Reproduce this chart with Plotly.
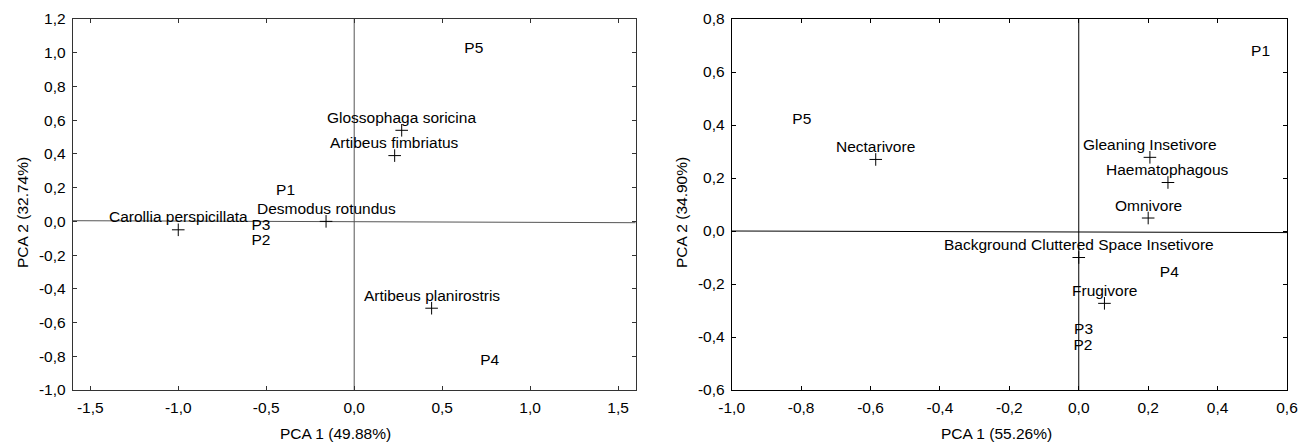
import plotly.graph_objects as go

# ---------- Data: left panel (species) ----------
species_left = ["Carollia perspicillata", "Desmodus rotundus", "Glossophaga soricina",
                "Artibeus fimbriatus", "Artibeus planirostris"]
species_left_x = [-1.00, -0.16, 0.27, 0.23, 0.44]
species_left_y = [-0.05, 0.00, 0.54, 0.39, -0.515]

sites_left = ["P1", "P2", "P3", "P4", "P5"]
sites_left_x = [-0.39, -0.53, -0.53, 0.77, 0.68]
sites_left_y = [0.18, -0.12, -0.03, -0.83, 1.02]

# ---------- Data: right panel (guilds) ----------
guilds_right = ["Nectarivore", "Gleaning Insetivore", "Haematophagous", "Omnivore",
                "Background Cluttered Space Insetivore", "Frugivore"]
guilds_right_x = [-0.585, 0.205, 0.257, 0.20, 0.0, 0.074]
guilds_right_y = [0.27, 0.278, 0.183, 0.049, -0.10, -0.273]

sites_right = ["P1", "P2", "P3", "P4", "P5"]
sites_right_x = [0.524, 0.012, 0.014, 0.261, -0.798]
sites_right_y = [0.675, -0.433, -0.373, -0.159, 0.417]

# ---------- Reference (origin) lines ----------
left_hline_x = [-1.6, 1.6]
left_hline_y = [0.004, -0.008]
left_vline_x = [0.0, 0.0]
left_vline_y = [-1.0, 1.2]
right_hline_x = [-1.0, 0.6]
right_hline_y = [0.0, -0.006]
right_vline_x = [0.0, 0.0]
right_vline_y = [-0.6, 0.8]

# ---------- Ticks ----------
left_xticks = [-1.5, -1.0, -0.5, 0.0, 0.5, 1.0, 1.5]
left_xlabels = ["-1,5", "-1,0", "-0,5", "0,0", "0,5", "1,0", "1,5"]
left_yticks = [-1.0, -0.8, -0.6, -0.4, -0.2, 0.0, 0.2, 0.4, 0.6, 0.8, 1.0, 1.2]
left_ylabels = ["-1,0", "-0,8", "-0,6", "-0,4", "-0,2", "0,0", "0,2", "0,4", "0,6", "0,8", "1,0", "1,2"]
right_xticks = [-1.0, -0.8, -0.6, -0.4, -0.2, 0.0, 0.2, 0.4, 0.6]
right_xlabels = ["-1,0", "-0,8", "-0,6", "-0,4", "-0,2", "0,0", "0,2", "0,4", "0,6"]
right_yticks = [-0.6, -0.4, -0.2, 0.0, 0.2, 0.4, 0.6, 0.8]
right_ylabels = ["-0,6", "-0,4", "-0,2", "0,0", "0,2", "0,4", "0,6", "0,8"]

FONT = "Liberation Sans, Arial, sans-serif"
FS = 15.5
W, H = 1299, 442


def px(xp):
    return xp / W


def py(yp):
    return 1 - yp / H


fig = go.Figure()
marker_style = dict(symbol="cross-thin", size=9, line=dict(color="black", width=1))
text_style = dict(family=FONT, size=FS, color="black")

# Left panel
fig.add_trace(go.Scatter(x=left_hline_x, y=left_hline_y, mode="lines",
                         line=dict(color="#555555", width=1), xaxis="x", yaxis="y", hoverinfo="skip"))
fig.add_trace(go.Scatter(x=left_vline_x, y=left_vline_y, mode="lines",
                         line=dict(color="#555555", width=1), xaxis="x", yaxis="y", hoverinfo="skip"))
fig.add_trace(go.Scatter(x=species_left_x, y=species_left_y, mode="markers",
                         marker=marker_style, xaxis="x", yaxis="y"))
fig.add_trace(go.Scatter(x=sites_left_x, y=sites_left_y, text=sites_left,
                         mode="text", textposition="middle center", textfont=text_style,
                         xaxis="x", yaxis="y"))

# Right panel
fig.add_trace(go.Scatter(x=right_hline_x, y=right_hline_y, mode="lines",
                         line=dict(color="black", width=1), xaxis="x2", yaxis="y2", hoverinfo="skip"))
fig.add_trace(go.Scatter(x=right_vline_x, y=right_vline_y, mode="lines",
                         line=dict(color="black", width=1), xaxis="x2", yaxis="y2", hoverinfo="skip"))
fig.add_trace(go.Scatter(x=guilds_right_x, y=guilds_right_y, mode="markers",
                         marker=marker_style, xaxis="x2", yaxis="y2"))
fig.add_trace(go.Scatter(x=sites_right_x, y=sites_right_y, text=sites_right,
                         mode="text", textposition="middle center", textfont=text_style,
                         xaxis="x2", yaxis="y2"))

ydom = [py(390), py(19)]
axis_common = dict(showline=True, mirror="ticks", ticks="inside", ticklen=4, tickwidth=1,
                   showgrid=False, zeroline=False, fixedrange=True, automargin=False,
                   ticklabeloverflow="allow",
                   tickfont=dict(family=FONT, size=FS, color="black"))

fig.update_layout(
    template="none",
    width=W, height=H, autosize=False,
    margin=dict(l=0, r=0, t=0, b=0, pad=0),
    paper_bgcolor="white", plot_bgcolor="white",
    showlegend=False,
    xaxis=dict(domain=[px(72.7), px(635.7)], range=[-1.6, 1.6], anchor="y",
               tickvals=left_xticks, ticktext=left_xlabels, linecolor="#333333",
               tickcolor="#333333", ticklabelstandoff=3, **axis_common),
    yaxis=dict(domain=ydom, range=[-1.0, 1.2], anchor="x",
               tickvals=left_yticks, ticktext=left_ylabels, linecolor="#333333",
               tickcolor="#333333", ticklabelstandoff=3, **axis_common),
    xaxis2=dict(domain=[px(731.7), px(1287)], range=[-1.0, 0.6], anchor="y2",
                tickvals=right_xticks, ticktext=right_xlabels, linecolor="black",
                tickcolor="black", ticklabelstandoff=3, **axis_common),
    yaxis2=dict(domain=ydom, range=[-0.6, 0.8], anchor="x2",
                tickvals=right_yticks, ticktext=right_ylabels, linecolor="black",
                tickcolor="black", ticklabelstandoff=3, **axis_common),
)

annots = []
# point labels placed just above their markers
for names, xs, ys, xr, yr in [(species_left, species_left_x, species_left_y, "x", "y"),
                              (guilds_right, guilds_right_x, guilds_right_y, "x2", "y2")]:
    for n, xv, yv in zip(names, xs, ys):
        annots.append(dict(text=n, x=xv, y=yv, xref=xr, yref=yr, showarrow=False,
                           font=text_style, xanchor="center", yanchor="middle", yshift=13))

annots += [
    dict(text="PCA 1 (49.88%)", x=px(335), y=py(433), xref="paper", yref="paper",
         showarrow=False, font=text_style, xanchor="center", yanchor="middle"),
    dict(text="PCA 2 (32.74%)", x=px(22), y=py(213), xref="paper", yref="paper",
         showarrow=False, font=text_style, textangle=-90, xanchor="center", yanchor="middle"),
    dict(text="PCA 1 (55.26%)", x=px(996), y=py(433), xref="paper", yref="paper",
         showarrow=False, font=text_style, xanchor="center", yanchor="middle"),
    dict(text="PCA 2 (34.90%)", x=px(681), y=py(213), xref="paper", yref="paper",
         showarrow=False, font=text_style, textangle=-90, xanchor="center", yanchor="middle"),
]
fig.update_layout(annotations=annots)

fig.write_html("out.html",
               config={"displayModeBar": False, "staticPlot": True},
               post_script="document.body.style.margin='0px';document.body.style.overflow='hidden';")
